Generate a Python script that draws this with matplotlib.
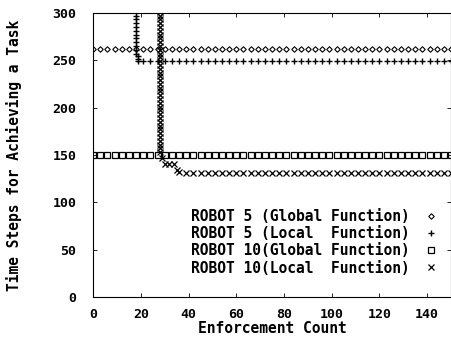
import matplotlib
matplotlib.use("Agg")
import matplotlib.pyplot as plt
import numpy as np

# Robot 5, global function: flat at ~262
r5g_x = np.arange(0, 151, 3)
r5g_y = [262] * len(r5g_x)

# Robot 5, local function: drop at ~18, then flat at ~249
r5l_x = [18, 18, 18, 18, 18, 18, 18, 18, 18, 18, 18, 18, 18, 19, 19, 19]
r5l_y = [305, 301, 297, 293, 289, 285, 281, 277, 273, 269, 265, 261, 257, 254, 251, 249]
r5l_x = r5l_x + list(np.arange(21, 151, 3))
r5l_y = r5l_y + [249] * len(np.arange(21, 151, 3))

# Robot 10, global function: flat at ~150
r10g_x = np.arange(0, 151, 3)
r10g_y = [150] * len(r10g_x)

# Robot 10, local function: drop at ~28, then settles at ~131
r10l_x = [28] * 39 + [29, 30, 32, 34, 35, 36]
r10l_y = [305, 301, 297, 293, 289, 285, 281, 277, 273, 269, 265, 261, 257,
          253, 249, 245, 241, 237, 233, 229, 225, 221, 217, 213, 209, 205,
          201, 197, 193, 189, 185, 181, 177, 173, 169, 165, 161, 157, 153,
          147, 141, 141, 141, 134, 132]
r10l_x = r10l_x + list(np.arange(39, 151, 3))
r10l_y = r10l_y + [131] * len(np.arange(39, 151, 3))

labels = [
    "ROBOT 5 (Global Function)",
    "ROBOT 5 (Local  Function)",
    "ROBOT 10(Global Function)",
    "ROBOT 10(Local  Function)",
]

plt.rcParams["font.family"] = "DejaVu Sans Mono"
plt.rcParams["font.weight"] = "bold"

fig = plt.figure(figsize=(4.52, 3.38), dpi=100)
ax = fig.add_axes([0.206, 0.121, 0.792, 0.841])

ax.plot(r5g_x, r5g_y, linestyle="none", marker="D", markersize=2.8,
        markerfacecolor="none", markeredgecolor="black", markeredgewidth=0.8, label=labels[0])
ax.plot(r5l_x, r5l_y, linestyle="none", marker="+", markersize=4.5,
        color="black", markeredgewidth=1.0, label=labels[1])
ax.plot(r10g_x, r10g_y, linestyle="none", marker="s", markersize=3.8,
        markerfacecolor="none", markeredgecolor="black", markeredgewidth=0.9, label=labels[2])
ax.plot(r10l_x, r10l_y, linestyle="none", marker="x", markersize=3.8,
        color="black", markeredgewidth=0.9, label=labels[3])

ax.set_xlim(0, 150)
ax.set_ylim(0, 300)
ax.set_xticks(np.arange(0, 141, 20))
ax.set_yticks(np.arange(0, 301, 50))
ax.tick_params(direction="in", length=3, width=0.6, top=True, right=True,
               labelsize=9.5)
ax.tick_params(axis="y", pad=12)
ax.tick_params(axis="x", pad=8)
for s in ax.spines.values():
    s.set_linewidth(0.8)

ax.set_xlabel("Enforcement Count", fontsize=10.5, fontweight="bold", labelpad=0)
ax.set_ylabel("Time Steps for Achieving a Task", fontsize=10.5, fontweight="bold", labelpad=22)

ax.legend(loc="lower right", bbox_to_anchor=(0.985, 0.05), frameon=False, markerfirst=False,
          fontsize=10.5, handlelength=1.0, handletextpad=1.0, labelspacing=0.15,
          borderpad=0)

fig.savefig("out.png", dpi=100)
